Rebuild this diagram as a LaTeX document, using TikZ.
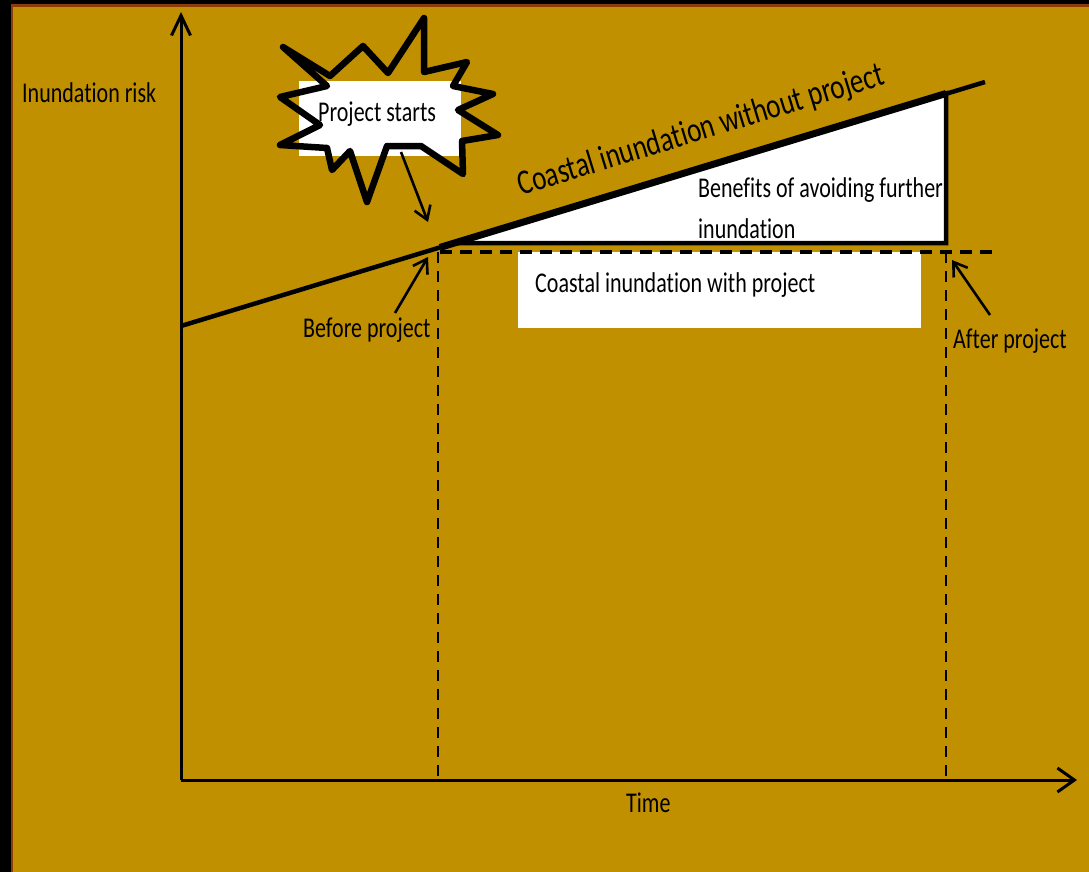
\documentclass[tikz,border=0pt]{standalone}
\usepackage{graphicx}
\usepackage{fontspec}
\setmainfont[Ligatures=NoCommon]{Carlito}
\usetikzlibrary{arrows.meta}
\definecolor{gold}{RGB}{192,144,0}
\definecolor{rim}{RGB}{140,60,10}
\newcommand{\st}[1]{\scalebox{1}[1.3]{#1}}
\tikzset{
  lbl/.style={inner sep=0pt, font=\fontsize{22}{26}\selectfont, text=black},
  ptr/.style={line width=2.6pt, -{Straight Barb[length=13pt,width=17pt]}},
  vdash/.style={line width=1.8pt, dash pattern=on 11pt off 8pt},
  hdash/.style={line width=4pt, dash pattern=on 12pt off 8pt},
}
\begin{document}
\begin{tikzpicture}[x=1pt,y=-1pt]
\useasboundingbox (0,0) rectangle (1089,872);
% background and rims
\fill[gold] (0,0) rectangle (1089,872);
\fill[black] (0,0) rectangle (11,872);
\fill[black] (0,0) rectangle (1089,4);
\fill[rim] (11,4) rectangle (13,872);
\fill[rim] (11,4) rectangle (1089,7);

% axes
\coordinate (O) at (181,780);
\coordinate (ytop) at (181,12);
\coordinate (xend) at (1077,780);
\draw[line width=3pt, -{Straight Barb[length=20pt,width=19pt]}] (O) -- (ytop);
\draw[line width=3pt, -{Straight Barb[length=17pt,width=24pt]}] (O) -- (xend);
\node[lbl, anchor=base west] (ylab) at (22,103) {\st{Inundation risk}};
\node[lbl, anchor=base west] (time) at (626,812) {\st{Time}};

% white box with project
\node[fill=white, inner sep=0pt, minimum width=403pt, minimum height=76pt] (wbox) at (719.5,290) {};
\node[lbl, anchor=base west] (withp) at (535,292) {\st{Coastal inundation with project}};

% vertical dashed guides
\coordinate (vb1) at (438,252);
\coordinate (vb2) at (438,778);
\coordinate (va1) at (946,252);
\coordinate (va2) at (946,778);
\draw[vdash] (vb1) -- (vb2);
\draw[vdash] (va1) -- (va2);

% benefits triangle
\coordinate (t1) at (454,243);
\coordinate (t2) at (946,93.5);
\coordinate (t3) at (946,243);
\coordinate (tA) at (440,247.4);
\filldraw[fill=white, line width=4.5pt, line join=miter] (t1) -- (t2) -- (t3) -- cycle;
\draw[line width=7pt] (tA) -- (t2);
\node[lbl, anchor=base west] (ben1) at (698,197) {\st{Benefits of avoiding further}};
\node[lbl, anchor=base west] (ben2) at (698,238) {\st{inundation}};

% with project dashed level
\coordinate (h1) at (440,252);
\coordinate (h2) at (995,252);
\draw[hdash] (h1) -- (h2);

% without project line
\coordinate (l0) at (181,326);
\coordinate (l1) at (985,82);
\draw[line width=4.5pt] (l0) -- (l1);
\node[lbl, font=\fontsize{27}{30}\selectfont, rotate=17] (wout) at (701,131) {\st{Coastal inundation without project}};

% before / after labels and pointers
\node[lbl, anchor=base west] (before) at (303,337) {\st{Before project}};
\coordinate (btail) at (395,313);
\coordinate (btip) at (428,257);
\draw[ptr] (btail) -- (btip);
\node[lbl, anchor=base west] (after) at (953,348) {\st{After project}};
\coordinate (atail) at (990,315);
\coordinate (atip) at (952,260);
\draw[ptr] (atail) -- (atip);

% project starts burst
\node[fill=white, inner sep=0pt, minimum width=162pt, minimum height=75pt] (psbox) at (380,118.5) {};
\draw[line width=6.5pt, line join=round, line cap=round]
  (283,47) -- (330,76) -- (363,46) -- (388,73) -- (424,18) -- (424,72)
  -- (467,62) -- (453,86) -- (493,94) -- (458,110) -- (498,135) -- (462,141)
  -- (463,174) -- (421,146) -- (387,146) -- (367,202) -- (350,151) -- (332,170)
  -- (327,148) -- (280,145) -- (320,125) -- (280,97) -- (327,86) -- cycle;
\node[lbl, anchor=base west] (pstart) at (318,122) {\st{Project starts}};
\coordinate (stail) at (401,152);
\coordinate (stip) at (428,222);
\draw[ptr] (stail) -- (stip);
\end{tikzpicture}
\end{document}
